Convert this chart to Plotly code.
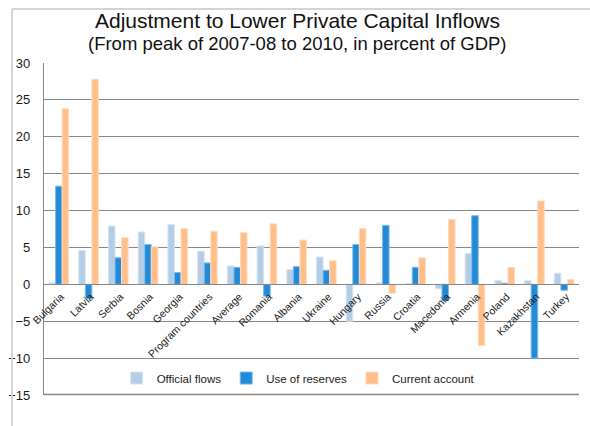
import plotly.graph_objects as go

# Adjustment to lower private capital inflows, peak 2007-08 to 2010, % of GDP
countries = ["Bulgaria", "Latvia", "Serbia", "Bosnia", "Georgia", "Program countries",
             "Average", "Romania", "Albania", "Ukraine", "Hungary", "Russia", "Croatia",
             "Macedonia", "Armenia", "Poland", "Kazakhstan", "Turkey"]
official_flows = [0.2, 4.6, 7.9, 7.1, 8.1, 4.5, 2.5, 5.2, 2.0, 3.7, -5.0, 0.2, 0.1,
                  -0.6, 4.2, 0.5, 0.5, 1.5]
use_of_reserves = [13.3, -1.9, 3.6, 5.4, 1.6, 2.9, 2.3, -1.6, 2.4, 1.9, 5.4, 8.0, 2.3,
                   -2.2, 9.3, 0.15, -10.0, -0.8]
current_account = [23.8, 27.8, 6.3, 5.1, 7.55, 7.2, 7.0, 8.2, 6.0, 3.2, 7.55, -1.2, 3.6,
                   8.8, -8.3, 2.3, 11.3, 0.65]
y_ticks = [-15, -10, -5, 0, 5, 10, 15, 20, 25, 30]

FONT = "Liberation Sans, Arial, sans-serif"
GRID = "#878787"
FRAME = "#D4D4D4"

series = [
    ("Official flows", official_flows, "#B4CDE6", "#D6E4F2"),
    ("Use of reserves", use_of_reserves, "#228BD8", "#7DB8E8"),
    ("Current account", current_account, "#FFBF8B", "#FFDDBF"),
]

fig = go.Figure()
for name, vals, col, edge in series:
    fig.add_trace(go.Bar(
        x=countries, y=vals, name=name,
        marker=dict(color=col, line=dict(color=edge, width=1)),
    ))

y_min, y_max = y_ticks[0], y_ticks[-1]
zero_pos = (0 - y_min) / (y_max - y_min)   # category axis crosses at y = 0

plot_h = 426 - 63 - 31
frame_top = 1 + 54 / plot_h
frame_left = -32 / 535

fig.update_layout(
    width=590, height=426,
    margin=dict(l=44, r=11, t=63, b=31),
    paper_bgcolor="white", plot_bgcolor="white",
    font=dict(family=FONT, color="#1a1a1a"),
    barmode="group", bargap=0.34, bargroupgap=0.0,
    showlegend=True,
    legend=dict(orientation="h", x=0.475, y=0.051, xanchor="center", yanchor="middle",
                bgcolor="rgba(0,0,0,0)", font=dict(size=11.5, family=FONT, color="#1a1a1a"),
                itemwidth=30, traceorder="normal"),
    xaxis=dict(
        anchor="free", position=zero_pos,
        showline=True, linecolor=GRID, linewidth=1.3,
        showgrid=False, ticks="", tickangle=-45,
        ticklabelshift=2, ticklabelstandoff=1,
        tickfont=dict(size=10.5, family=FONT, color="#1a1a1a"),
        automargin=False,
    ),
    yaxis=dict(
        range=[y_min, y_max], tickvals=y_ticks, domain=[0, 1],
        showgrid=True, gridcolor=GRID, gridwidth=1.3,
        zeroline=False, showline=True, linecolor=GRID, linewidth=1.3,
        ticks="", ticklabelstandoff=10,
        tickfont=dict(size=13, family=FONT, color="#1a1a1a"),
        automargin=False,
    ),
    annotations=[
        dict(text="Adjustment to Lower Private Capital Inflows", xref="paper", yref="paper",
             x=0.473, y=1.0, yshift=43, xanchor="center", yanchor="middle", showarrow=False,
             font=dict(size=21, family=FONT, color="#111111")),
        dict(text="(From peak of 2007-08 to 2010, in percent of GDP)", xref="paper", yref="paper",
             x=0.473, y=1.0, yshift=20, xanchor="center", yanchor="middle", showarrow=False,
             font=dict(size=18.5, family=FONT, color="#111111")),
    ],
)

# bottom gridline (-15) along the lower edge of the plotting area
fig.add_shape(type="line", xref="paper", yref="paper", x0=0, x1=1, y0=0.0015, y1=0.0015,
              line=dict(color=GRID, width=1.3), layer="above")

# outer chart frame (top and left edges)
fig.add_shape(type="line", xref="paper", yref="paper", x0=frame_left, x1=1.03,
              y0=frame_top, y1=frame_top, line=dict(color=FRAME, width=2))
fig.add_shape(type="line", xref="paper", yref="paper", x0=frame_left, x1=frame_left,
              y0=-0.1, y1=frame_top, line=dict(color=FRAME, width=2))

fig.write_html("out.html")
